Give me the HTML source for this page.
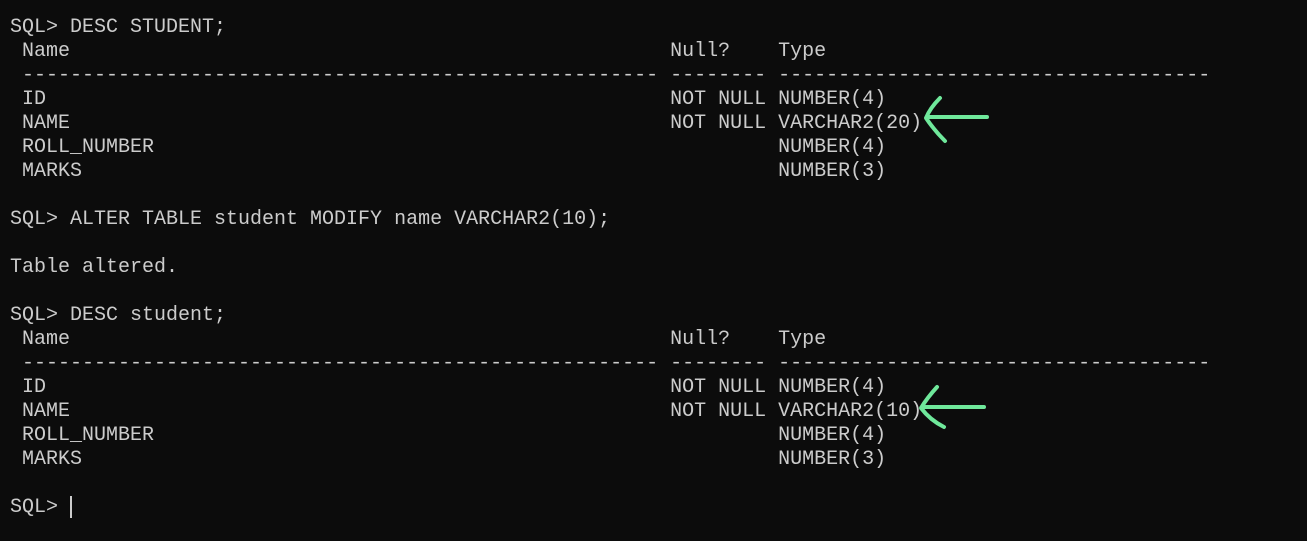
<!DOCTYPE html>
<html><head><style>
html,body{margin:0;padding:0;background:#0c0c0c;width:1307px;height:541px;overflow:hidden}
pre{position:absolute;left:10px;top:16px;margin:0;font-family:"Liberation Mono","DejaVu Sans Mono",monospace;font-size:20px;line-height:24px;color:#cccccc;letter-spacing:0}
.cur{position:absolute;left:70px;top:496px;width:2px;height:22px;background:#cccccc}
svg{position:absolute;left:0;top:0}
</style></head><body>
<pre>SQL&gt; DESC STUDENT;
 Name                                                  Null?    Type
 ----------------------------------------------------- -------- ------------------------------------
 ID                                                    NOT NULL NUMBER(4)
 NAME                                                  NOT NULL VARCHAR2(20)
 ROLL_NUMBER                                                    NUMBER(4)
 MARKS                                                          NUMBER(3)

SQL&gt; ALTER TABLE student MODIFY name VARCHAR2(10);

Table altered.

SQL&gt; DESC student;
 Name                                                  Null?    Type
 ----------------------------------------------------- -------- ------------------------------------
 ID                                                    NOT NULL NUMBER(4)
 NAME                                                  NOT NULL VARCHAR2(10)
 ROLL_NUMBER                                                    NUMBER(4)
 MARKS                                                          NUMBER(3)

SQL&gt; </pre>
<div class="cur"></div>
<svg width="1307" height="541" fill="none" stroke="#6fe89b" stroke-width="4" stroke-linecap="round" stroke-linejoin="round">
<path d="M987 117 L928 117"/><path d="M940 98 Q930 108 926 118 Q934 130 945 141"/>
<path d="M984 407 L923 407"/><path d="M937 387 Q927 398 921 408 Q930 420 944 427"/>
</svg>
</body></html>
